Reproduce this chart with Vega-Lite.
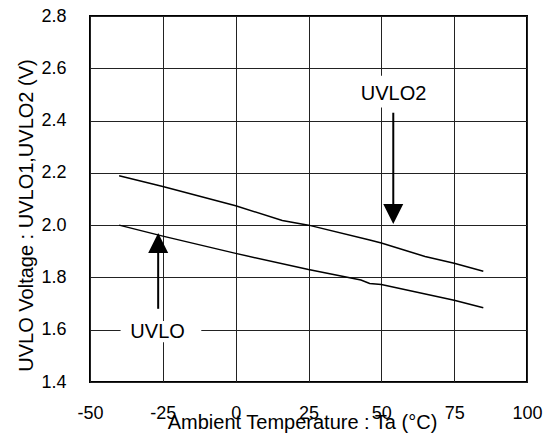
{
  "$schema": "https://vega.github.io/schema/vega-lite/v6.json",
  "autosize": "none",
  "width": 437,
  "height": 366,
  "padding": {"left": 90, "top": 16, "right": 25, "bottom": 57},
  "background": "white",
  "datasets": {
    "curves": [
      {"series": "UVLO2", "t": -40, "v": 2.189},
      {"series": "UVLO2", "t": -25, "v": 2.148},
      {"series": "UVLO2", "t": 0, "v": 2.074},
      {"series": "UVLO2", "t": 16, "v": 2.018},
      {"series": "UVLO2", "t": 25, "v": 2.0},
      {"series": "UVLO2", "t": 46, "v": 1.943},
      {"series": "UVLO2", "t": 50, "v": 1.932},
      {"series": "UVLO2", "t": 65, "v": 1.88},
      {"series": "UVLO2", "t": 75, "v": 1.854},
      {"series": "UVLO2", "t": 85, "v": 1.824},
      {"series": "UVLO", "t": -40, "v": 2.0},
      {"series": "UVLO", "t": -25, "v": 1.958},
      {"series": "UVLO", "t": 0, "v": 1.892},
      {"series": "UVLO", "t": 25, "v": 1.83},
      {"series": "UVLO", "t": 43, "v": 1.79},
      {"series": "UVLO", "t": 46, "v": 1.777},
      {"series": "UVLO", "t": 50, "v": 1.773},
      {"series": "UVLO", "t": 75, "v": 1.713},
      {"series": "UVLO", "t": 85, "v": 1.684}
    ],
    "boxes": [
      {"label": "UVLO", "t": -39.5, "t2": -11.8, "v": 1.552, "v2": 1.633},
      {"label": "UVLO2", "t": 41, "t2": 67, "v": 2.45, "v2": 2.571}
    ],
    "arrows": [
      {"label": "UVLO", "dir": "up", "t": -26.6, "v": 1.68, "v2": 1.9, "tip": 1.97},
      {"label": "UVLO2", "dir": "down", "t": 54.1, "v": 2.43, "v2": 2.078, "tip": 2.004}
    ],
    "labels": [
      {"label": "UVLO", "t": -26.8, "v": 1.592},
      {"label": "UVLO2", "t": 54.2, "v": 2.5}
    ]
  },
  "encoding": {
    "x": {
      "field": "t",
      "type": "quantitative",
      "scale": {"domain": [-50, 100], "nice": false, "zero": false},
      "axis": {
        "values": [-50, -25, 0, 25, 50, 75, 100],
        "labelExpr": "datum.value + ''",
        "title": "Ambient Temperature : Ta (°C)",
        "labelPadding": 22,
        "titleX": 212,
        "titleY": 46,
        "titleBaseline": "alphabetic",
        "titleAlign": "center"
      }
    },
    "y": {
      "field": "v",
      "type": "quantitative",
      "scale": {"domain": [1.4, 2.8], "nice": false, "zero": false},
      "axis": {
        "values": [1.4, 1.6, 1.8, 2.0, 2.2, 2.4, 2.6, 2.8],
        "format": ".1f",
        "title": "UVLO Voltage : UVLO1,UVLO2 (V)",
        "labelPadding": 24,
        "titleX": -58,
        "titleY": 199,
        "titleBaseline": "alphabetic",
        "titleAlign": "center",
        "titleAngle": -90
      }
    }
  },
  "layer": [
    {
      "data": {"name": "boxes"},
      "mark": {"type": "rect", "color": "white"},
      "encoding": {
        "x2": {"field": "t2"},
        "y2": {"field": "v2"}
      }
    },
    {
      "data": {"name": "curves"},
      "mark": {"type": "line", "color": "black", "strokeWidth": 1.5},
      "encoding": {
        "detail": {"field": "series"}
      }
    },
    {
      "data": {"name": "arrows"},
      "mark": {"type": "rule", "color": "black", "strokeWidth": 2},
      "encoding": {
        "y2": {"field": "v2"}
      }
    },
    {
      "data": {"name": "arrows"},
      "transform": [{"filter": "datum.dir === 'up'"}],
      "mark": {"type": "point", "shape": "M0,0L1,2L-1,2Z", "filled": true, "color": "black", "opacity": 1, "size": 400, "strokeWidth": 0},
      "encoding": {
        "y": {"field": "tip", "type": "quantitative"}
      }
    },
    {
      "data": {"name": "arrows"},
      "transform": [{"filter": "datum.dir === 'down'"}],
      "mark": {"type": "point", "shape": "M0,0L-1,-2L1,-2Z", "filled": true, "color": "black", "opacity": 1, "size": 400, "strokeWidth": 0},
      "encoding": {
        "y": {"field": "tip", "type": "quantitative"}
      }
    },
    {
      "data": {"name": "labels"},
      "mark": {"type": "text", "font": "Liberation Sans", "fontSize": 20, "color": "black", "align": "center", "baseline": "middle"},
      "encoding": {
        "text": {"field": "label"}
      }
    }
  ],
  "config": {
    "view": {"stroke": "black", "strokeWidth": 2},
    "axis": {
      "grid": true,
      "gridColor": "#222",
      "gridWidth": 1,
      "gridOpacity": 1,
      "ticks": false,
      "tickSize": 0,
      "domain": false,
      "labelFont": "Liberation Sans",
      "labelFontSize": 18,
      "labelColor": "black",
      "labelFlush": false,
      "labelOverlap": false,
      "titleFont": "Liberation Sans",
      "titleFontSize": 20,
      "titleFontWeight": "normal",
      "titleColor": "black"
    }
  }
}
